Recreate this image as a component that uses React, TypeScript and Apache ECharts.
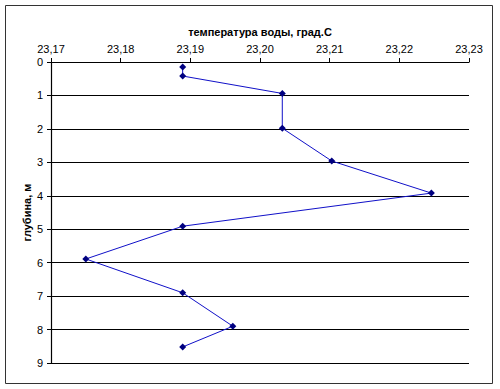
import React, { useEffect, useRef } from "react";
import * as echarts from "echarts";

const temperatures = [23.1889, 23.1889, 23.2032, 23.2032, 23.2103, 23.2246, 23.1889, 23.175, 23.1889, 23.1961, 23.1889];
const depths = [0.15, 0.42, 0.94, 1.98, 2.96, 3.92, 4.91, 5.89, 6.9, 7.9, 8.52];
const xTitle = "температура воды, град.С";
const yTitle = "глубина, м";

export default function App() {
  const ref = useRef<HTMLDivElement>(null);
  useEffect(() => {
    const chart = echarts.init(ref.current!, null, { renderer: "svg" });
    const font = "Liberation Sans, Arial, sans-serif";
    chart.setOption({
      animation: false,
      backgroundColor: "#ffffff",
      graphic: [
        {
          type: "rect",
          shape: { x: 5.5, y: 5.5, width: 487, height: 378 },
          style: { fill: "none", stroke: "#333", lineWidth: 1 },
          z: -1,
        },
      ],
      grid: { left: 51, right: 31, top: 62, bottom: 26, containLabel: false },
      xAxis: {
        type: "value",
        position: "top",
        min: 23.17,
        max: 23.23,
        interval: 0.01,
        name: xTitle,
        nameLocation: "middle",
        nameGap: 25,
        nameMoveOverlap: false,
        nameTextStyle: { fontFamily: font, fontSize: 11, fontWeight: "bold", color: "#000" },
        axisLine: { show: true, lineStyle: { color: "#000", width: 1.2 } },
        axisTick: { show: true, inside: false, length: 4, lineStyle: { color: "#000" } },
        axisLabel: {
          fontFamily: font,
          fontSize: 11,
          color: "#000",
          margin: 8,
          formatter: (v: number) => v.toFixed(2).replace(".", ","),
        },
        splitLine: { show: false },
      },
      yAxis: {
        type: "value",
        inverse: true,
        min: 0,
        max: 9,
        interval: 1,
        name: yTitle,
        nameLocation: "middle",
        nameGap: 19,
        nameRotate: 90,
        nameMoveOverlap: false,
        nameTextStyle: { fontFamily: font, fontSize: 11, fontWeight: "bold", color: "#000" },
        axisLine: { show: true, lineStyle: { color: "#000", width: 1.2 } },
        axisTick: { show: true, inside: false, length: 4, lineStyle: { color: "#000" } },
        axisLabel: { fontFamily: font, fontSize: 11, color: "#000", margin: 8 },
        splitLine: { show: true, lineStyle: { color: "#000", width: 1.2 } },
      },
      series: [
        {
          type: "line",
          data: temperatures.map((t, i) => [t, depths[i]]),
          symbol: "diamond",
          symbolSize: 7,
          showAllSymbol: true,
          lineStyle: { color: "#1010c8", width: 1 },
          itemStyle: { color: "#000080" },
        },
      ],
    });
    return () => chart.dispose();
  }, []);
  return <div ref={ref} style={{ position: "fixed", left: 0, top: 0, width: 500, height: 389 }} />;
}
